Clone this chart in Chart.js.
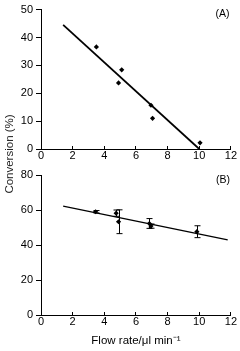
<!DOCTYPE html>
<html>
<head>
<meta charset="utf-8">
<script src="https://cdn.jsdelivr.net/npm/chart.js@4"></script>
<style>
  html, body { margin: 0; padding: 0; background: #fff; }
  #wrap { position: relative; width: 240px; height: 351px; overflow: hidden; font-family: "Liberation Sans", Arial, sans-serif; color: #000; }
  canvas { position: absolute; left: 0; }
  #chartA { top: 0; }
  #chartB { top: 165px; }
  .tag { position: absolute; font-size: 10.5px; line-height: 1; transform: translate(-50%, -50%); white-space: nowrap; }
  /* box centred on (9,154), rotated about its own centre */
  #ytitle { position: absolute; left: -36px; top: 148px; width: 90px; height: 12px; font-size: 11.5px; line-height: 12px; text-align: center; white-space: nowrap; color: #222; transform: rotate(-90deg); }
</style>
</head>
<body>
<div id="wrap">
  <canvas id="chartA" width="240" height="165"></canvas>
  <canvas id="chartB" width="240" height="186"></canvas>
  <div class="tag" style="left:222.5px; top:13px;">(A)</div>
  <div class="tag" style="left:223px; top:178.5px;">(B)</div>
  <div id="ytitle">Conversion (%)</div>
</div>
<script>
// panel A: conversion vs flow rate
const flowA = [3.5, 4.9, 5.1, 6.95, 7.05, 10.05];
const convA = [36.6, 23.7, 28.4, 15.7, 11.0, 2.2];
const fitAX = [1.4, 10];
const fitAY = [44.5, 0];

// panel B: with error bars
const flowB = [3.45, 4.75, 4.9, 6.85, 6.95, 9.85];
const convB = [59.0, 58.2, 53.3, 52.3, 50.8, 47.6];
const errB = [0.7, 1.8, 6.8, 2.8, 1.2, 3.4];
const fitBX = [1.4, 11.8];
const fitBY = [62.2, 42.9];

const xMin = 0, xMax = 12, xStep = 2;
const xTitle = "Flow rate/\u03bcl min\u207b\u00b9";

const fontFamily = "'Liberation Sans', Arial, sans-serif";
const tickFont = { family: fontFamily, size: 11 };
const toPts = (xs, ys) => xs.map((x, i) => ({ x: x, y: ys[i] }));

const makeScales = (yMax, yStep, xHeight, withTitle) => ({
  x: {
    type: "linear",
    min: xMin,
    max: xMax,
    grid: { drawOnChartArea: false, tickLength: -3, color: "#000" },
    border: { color: "#000", width: 1 },
    ticks: { stepSize: xStep, font: tickFont, color: "#000", padding: 3, maxRotation: 0 },
    title: {
      display: withTitle,
      text: xTitle,
      color: "#000",
      font: { family: fontFamily, size: 11.5 },
      padding: { top: 0, bottom: 3 },
    },
    afterFit: (s) => { s.height = xHeight; },
  },
  y: {
    min: 0,
    max: yMax,
    grid: { drawOnChartArea: false, tickLength: 5, color: "#000" },
    border: { color: "#000", width: 1 },
    ticks: { stepSize: yStep, font: tickFont, color: "#000", padding: 3 },
    afterFit: (s) => { s.width = 41; },
  },
});

const pointSet = (pts) => ({
  type: "scatter",
  data: pts,
  pointStyle: "rectRot",
  pointRadius: 2.6,
  backgroundColor: "#000",
  borderColor: "#000",
  borderWidth: 0,
});

const lineSet = (pts, w) => ({
  type: "line",
  data: pts,
  borderColor: "#000",
  borderWidth: w,
  pointRadius: 0,
  fill: false,
  tension: 0,
});

const baseOptions = {
  responsive: false,
  animation: false,
  plugins: { legend: { display: false }, tooltip: { enabled: false } },
};

new Chart(document.getElementById("chartA"), {
  type: "scatter",
  data: { datasets: [lineSet(toPts(fitAX, fitAY), 1.8), pointSet(toPts(flowA, convA))] },
  options: {
    ...baseOptions,
    layout: { padding: { top: 7, right: 9, left: 0, bottom: 0 } },
    scales: makeScales(50, 10, 16, false),
  },
});

// vertical error bars with caps, drawn through the chart scales
const errorBars = {
  id: "errorBars",
  afterDatasetsDraw(chart) {
    const { ctx, scales } = chart;
    ctx.save();
    ctx.strokeStyle = "#000";
    ctx.lineWidth = 1;
    flowB.forEach((f, i) => {
      const px = Math.round(scales.x.getPixelForValue(f)) + 0.5;
      const top = scales.y.getPixelForValue(convB[i] + errB[i]);
      const bot = scales.y.getPixelForValue(convB[i] - errB[i]);
      ctx.beginPath();
      ctx.moveTo(px, top);
      ctx.lineTo(px, bot);
      ctx.moveTo(px - 3, top);
      ctx.lineTo(px + 3, top);
      ctx.moveTo(px - 3, bot);
      ctx.lineTo(px + 3, bot);
      ctx.stroke();
    });
    ctx.restore();
  },
};

new Chart(document.getElementById("chartB"), {
  type: "scatter",
  data: { datasets: [lineSet(toPts(fitBX, fitBY), 1.2), pointSet(toPts(flowB, convB))] },
  options: {
    ...baseOptions,
    layout: { padding: { top: 10, right: 9, left: 0, bottom: 0 } },
    scales: makeScales(80, 20, 36, true),
  },
  plugins: [errorBars],
});
</script>
</body>
</html>
